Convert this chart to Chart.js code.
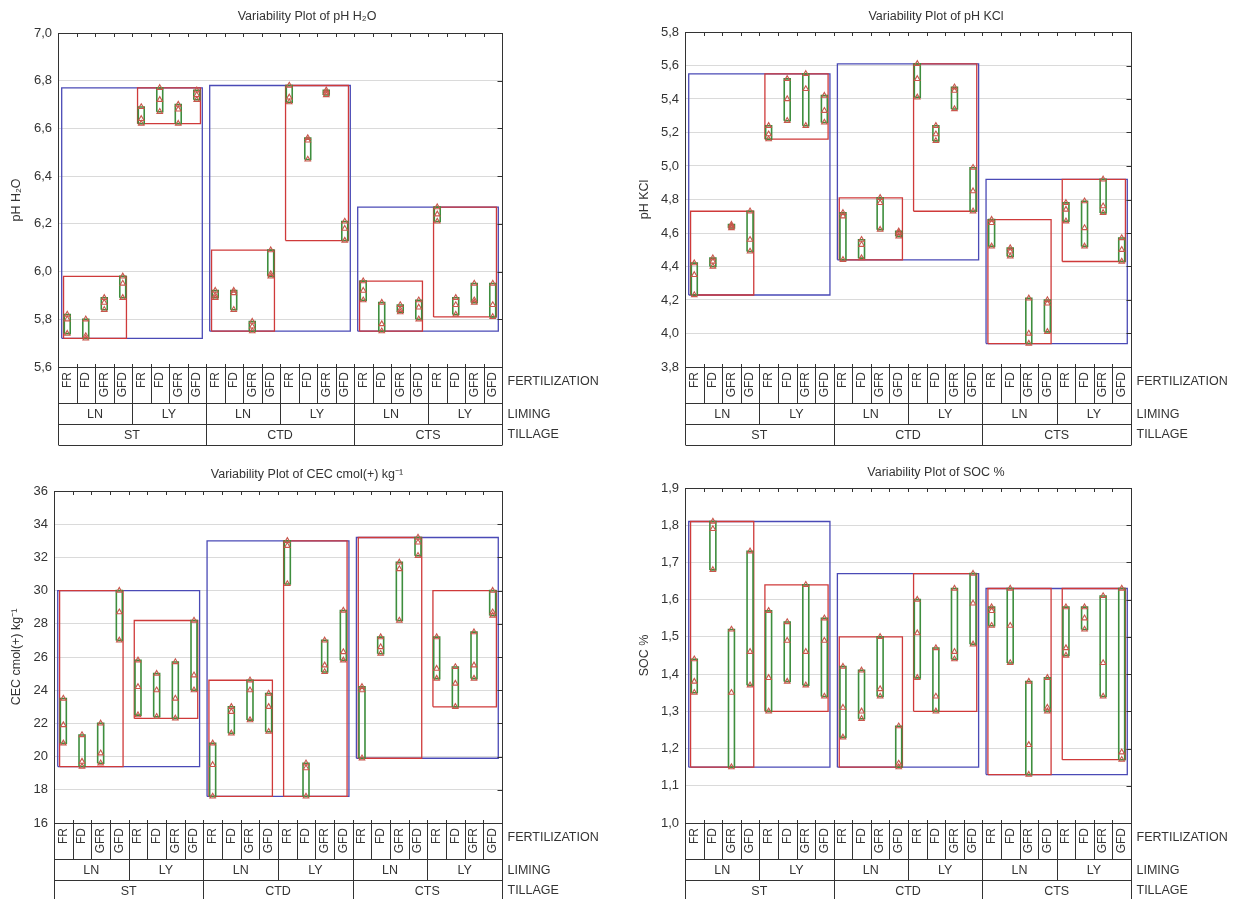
<!DOCTYPE html>
<html>
<head>
<meta charset="utf-8">
<script src="https://cdn.jsdelivr.net/npm/chart.js@4.4.1/dist/chart.umd.min.js"></script>
<style>
  body { margin: 0; background: #fff; width: 1236px; height: 899px; overflow: hidden; position: relative; }
  canvas { position: absolute; }
</style>
</head>
<body>
<canvas id="phH2O" width="618" height="450" style="left:0;top:0"></canvas>
<canvas id="phKCl" width="618" height="450" style="left:618px;top:0"></canvas>
<canvas id="cec" width="618" height="449" style="left:0;top:450px"></canvas>
<canvas id="soc" width="618" height="449" style="left:618px;top:450px"></canvas>
<script>
// factor levels, in the order the cells appear on the x axis
const fertilization = ['FR', 'FD', 'GFR', 'GFD'];
const liming = ['LN', 'LY'];
const tillage = ['ST', 'CTD', 'CTS'];

// three replicate values per cell: ST-LN, ST-LY, CTD-LN, CTD-LY, CTS-LN, CTS-LY (x FR, FD, GFR, GFD)
const phH2O = [
  [5.74, 5.80, 5.82], [5.72, 5.73, 5.80], [5.84, 5.87, 5.89], [5.89, 5.95, 5.98],
  [6.62, 6.64, 6.69], [6.67, 6.72, 6.77], [6.62, 6.68, 6.70], [6.72, 6.74, 6.76],
  [5.89, 5.90, 5.92], [5.84, 5.91, 5.92], [5.75, 5.77, 5.79], [5.98, 5.99, 6.09],
  [6.71, 6.73, 6.78], [6.47, 6.55, 6.56], [6.74, 6.75, 6.76], [6.13, 6.18, 6.21],
  [5.88, 5.92, 5.96], [5.75, 5.78, 5.87], [5.83, 5.84, 5.86], [5.80, 5.85, 5.88],
  [6.21, 6.24, 6.27], [5.82, 5.86, 5.89], [5.87, 5.88, 5.95], [5.81, 5.86, 5.95]
];
const phKCl = [
  [4.23, 4.35, 4.42], [4.40, 4.43, 4.45], [4.63, 4.64, 4.65], [4.49, 4.56, 4.73],
  [5.16, 5.19, 5.24], [5.27, 5.40, 5.52], [5.24, 5.46, 5.55], [5.26, 5.33, 5.42],
  [4.44, 4.70, 4.72], [4.45, 4.53, 4.56], [4.62, 4.78, 4.81], [4.58, 4.60, 4.61],
  [5.41, 5.52, 5.61], [5.15, 5.19, 5.24], [5.34, 5.45, 5.47], [4.73, 4.85, 4.99],
  [4.52, 4.66, 4.68], [4.46, 4.49, 4.51], [3.94, 4.00, 4.21], [4.01, 4.18, 4.20],
  [4.67, 4.74, 4.78], [4.52, 4.63, 4.79], [4.72, 4.76, 4.92], [4.43, 4.50, 4.57]
];
const cec = [
  [20.8, 21.9, 23.5], [19.4, 19.7, 21.3], [19.6, 20.2, 22.0], [27.0, 28.7, 30.0],
  [22.5, 24.2, 25.8], [22.4, 24.0, 25.0], [22.3, 23.5, 25.7], [24.0, 24.9, 28.2],
  [17.6, 19.5, 20.8], [21.4, 22.7, 23.0], [22.2, 24.0, 24.6], [21.5, 23.0, 23.8],
  [30.4, 32.7, 33.0], [17.6, 19.3, 19.6], [25.1, 25.5, 27.0], [25.8, 26.3, 28.8],
  [19.9, 24.0, 24.2], [26.2, 26.6, 27.2], [28.2, 31.3, 31.7], [32.1, 32.9, 33.2],
  [24.7, 25.3, 27.2], [23.0, 24.4, 25.4], [24.7, 25.5, 27.5], [28.5, 28.7, 30.0]
];
const soc = [
  [1.35, 1.38, 1.44], [1.68, 1.79, 1.81], [1.15, 1.35, 1.52], [1.37, 1.46, 1.73],
  [1.30, 1.39, 1.57], [1.38, 1.49, 1.54], [1.37, 1.46, 1.64], [1.34, 1.49, 1.55],
  [1.23, 1.31, 1.42], [1.28, 1.30, 1.41], [1.34, 1.36, 1.50], [1.15, 1.16, 1.26],
  [1.39, 1.51, 1.60], [1.30, 1.34, 1.47], [1.44, 1.46, 1.63], [1.48, 1.59, 1.67],
  [1.53, 1.57, 1.58], [1.43, 1.53, 1.63], [1.13, 1.21, 1.38], [1.30, 1.31, 1.39],
  [1.45, 1.47, 1.58], [1.52, 1.55, 1.58], [1.34, 1.43, 1.61], [1.17, 1.19, 1.63]
];

const FONT = '"Liberation Sans", Arial, sans-serif';
const INK = '#333';
const GREEN = '#3e8e3e', RED = '#cf3a3a', BLUE = '#4a4ab6', TRI = '#c9574c';

// closed rectangle as a line through the scales
function box(x0, x1, y0, y1, color, width, order) {
  return {
    data: [{x: x0, y: y0}, {x: x1, y: y0}, {x: x1, y: y1}, {x: x0, y: y1}, {x: x0, y: y0}],
    showLine: true, borderColor: color, borderWidth: width,
    pointRadius: 0, pointHoverRadius: 0, fill: false, order: order
  };
}

const tablePlugin = {
  id: 'varTable',
  afterDraw(chart, args, opts) {
    const {ctx, chartArea: {top, bottom}} = chart;
    const xs = chart.scales.x, ys = chart.scales.y;
    const px = v => Math.round(xs.getPixelForValue(v)) + 0.5;
    const py = v => Math.round(v) + 0.5;
    const rowF = bottom + 36, rowL = rowF + 21, rowT = rowL + 21;
    const L = px(0), R = px(24);
    ctx.save();
    ctx.strokeStyle = INK;
    ctx.lineWidth = 1;
    const line = (x0, y0, x1, y1) => { ctx.beginPath(); ctx.moveTo(x0, y0); ctx.lineTo(x1, y1); ctx.stroke(); };
    line(L, top, L, rowT);
    line(R, top, R, rowT);
    [top, bottom, rowF, rowL, rowT].forEach(v => line(L, py(v), R, py(v)));
    for (let i = 1; i < 24; i++) {
      line(px(i), top, px(i), top + 4);
      line(px(i), bottom - 3, px(i), rowF);
      if (i % 4 === 0) line(px(i), rowF, px(i), rowL);
      if (i % 8 === 0) line(px(i), rowL, px(i), rowT);
    }
    ys.ticks.forEach(t => { const v = py(ys.getPixelForValue(t.value)); line(R - 5, v, R, v); });

    ctx.fillStyle = INK;
    ctx.font = '12px ' + FONT;
    ctx.textBaseline = 'middle';
    for (let i = 0; i < 24; i++) {
      ctx.save();
      ctx.translate(xs.getPixelForValue(i + 0.5), bottom + 5);
      ctx.rotate(-Math.PI / 2);
      ctx.textAlign = 'right';
      ctx.fillText(fertilization[i % 4], 0, 0);
      ctx.restore();
    }
    ctx.font = '12.5px ' + FONT;
    ctx.textAlign = 'center';
    for (let g = 0; g < 6; g++) ctx.fillText(liming[g % 2], xs.getPixelForValue(g * 4 + 2), (rowF + rowL) / 2 + 1);
    for (let t = 0; t < 3; t++) ctx.fillText(tillage[t], xs.getPixelForValue(t * 8 + 4), (rowL + rowT) / 2 + 1);
    ctx.textAlign = 'left';
    ctx.fillText('FERTILIZATION', R + 5, bottom + 15);
    ctx.fillText('LIMING', R + 5, rowF + 12);
    ctx.fillText('TILLAGE', R + 5, rowL + 11);
    ctx.textAlign = 'center';
    ctx.fillText(opts.title, opts.titleX, opts.titleY);
    ctx.restore();
  }
};

function variabilityPlot(id, cells, p) {
  const datasets = [];
  datasets.push({
    data: cells.flatMap((v, i) => v.map(y => ({x: i + 0.5, y: y}))),
    pointStyle: 'triangle', pointRadius: 3.2, pointHoverRadius: 3.2,
    borderColor: TRI, backgroundColor: 'rgba(0,0,0,0)', borderWidth: 1.1, order: 0
  });
  cells.forEach((v, i) => datasets.push(box(i + 0.34, i + 0.66, Math.min(...v), Math.max(...v), GREEN, 1.6, 1)));
  for (let g = 0; g < 6; g++) {
    const v = cells.slice(g * 4, g * 4 + 4).flat();
    datasets.push(box(g * 4 + 0.3, g * 4 + 3.7, Math.min(...v), Math.max(...v), RED, 1.3, 2));
  }
  for (let t = 0; t < 3; t++) {
    const v = cells.slice(t * 8, t * 8 + 8).flat();
    datasets.push(box(t * 8 + 0.2, t * 8 + 7.8, Math.min(...v), Math.max(...v), BLUE, 1.3, 3));
  }
  const canvas = document.getElementById(id);
  return new Chart(canvas, {
    type: 'scatter',
    data: {datasets: datasets},
    plugins: [tablePlugin],
    options: {
      responsive: false,
      animation: false,
      layout: {padding: {left: 0, top: p.top, right: canvas.width - p.right, bottom: canvas.height - p.bottom}},
      plugins: {
        legend: {display: false},
        tooltip: {enabled: false},
        varTable: {title: p.title, titleX: p.titleX, titleY: p.titleY}
      },
      scales: {
        x: {type: 'linear', min: 0, max: 24, display: false},
        y: {
          min: p.min, max: p.max,
          border: {display: false},
          grid: {color: '#dadada', drawTicks: false},
          ticks: {
            stepSize: p.step, padding: 6, color: INK, font: {family: FONT, size: 13},
            callback: v => v.toFixed(p.dec).replace('.', ',')
          },
          title: {display: true, text: p.yTitle, color: INK, font: {family: FONT, size: 12.5}, padding: {top: p.yTitleX - 7.5, bottom: 0}},
          afterFit: s => { s.width = p.left; }
        }
      }
    }
  });
}

variabilityPlot('phH2O', phH2O, {
  title: 'Variability Plot of pH H\u2082O', titleX: 307, titleY: 17, yTitle: 'pH H\u2082O', yTitleX: 17,
  left: 58, top: 33, right: 502, bottom: 367, min: 5.6, max: 7.0, step: 0.2, dec: 1
});
variabilityPlot('phKCl', phKCl, {
  title: 'Variability Plot of pH KCl', titleX: 318, titleY: 17, yTitle: 'pH KCl', yTitleX: 27,
  left: 67, top: 32, right: 513, bottom: 367, min: 3.8, max: 5.8, step: 0.2, dec: 1
});
variabilityPlot('cec', cec, {
  title: 'Variability Plot of CEC cmol(+) kg\u207B\u00B9', titleX: 307, titleY: 25, yTitle: 'CEC cmol(+) kg\u207B\u00B9', yTitleX: 17,
  left: 54, top: 41, right: 502, bottom: 373, min: 16, max: 36, step: 2, dec: 0
});
variabilityPlot('soc', soc, {
  title: 'Variability Plot of SOC %', titleX: 318, titleY: 23, yTitle: 'SOC %', yTitleX: 27,
  left: 67, top: 38, right: 513, bottom: 373, min: 1.0, max: 1.9, step: 0.1, dec: 1
});
</script>
</body>
</html>
